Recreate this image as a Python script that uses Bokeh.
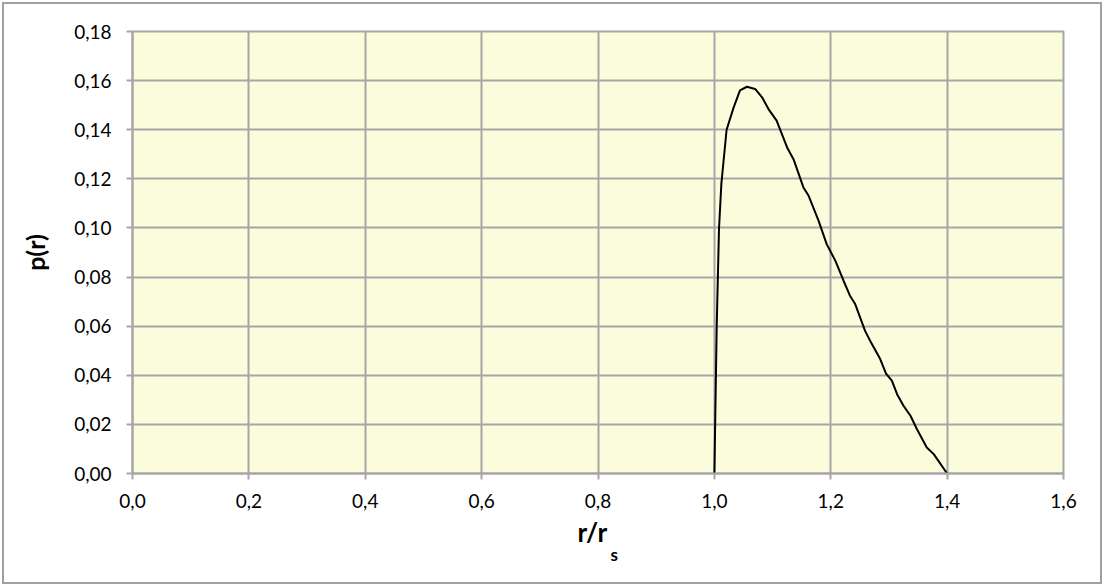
from bokeh.plotting import figure
from bokeh.models import FixedTicker, Title
from bokeh.embed import file_html
from bokeh.resources import INLINE

# data
r_ratio = [1.000, 1.004, 1.008, 1.012, 1.021, 1.033, 1.044, 1.056, 1.070, 1.082,
           1.093, 1.107, 1.125, 1.136, 1.153, 1.162, 1.179, 1.193, 1.208, 1.222,
           1.233, 1.242, 1.259, 1.270, 1.285, 1.295, 1.305, 1.314, 1.325, 1.337,
           1.348, 1.365, 1.377, 1.400]
p_r = [0.000, 0.060, 0.100, 0.118, 0.140, 0.149, 0.156, 0.1575, 0.1566, 0.1532,
       0.1484, 0.1437, 0.1328, 0.128, 0.1165, 0.1131, 0.103, 0.0934, 0.0866, 0.0785,
       0.0724, 0.069, 0.0581, 0.053, 0.0466, 0.0407, 0.0378, 0.0323, 0.0276, 0.0235,
       0.0181, 0.0106, 0.0079, 0.000]

x_ticks = [0.0, 0.2, 0.4, 0.6, 0.8, 1.0, 1.2, 1.4, 1.6]
x_tick_labels = ["0,0", "0,2", "0,4", "0,6", "0,8", "1,0", "1,2", "1,4", "1,6"]
y_ticks = [0.00, 0.02, 0.04, 0.06, 0.08, 0.10, 0.12, 0.14, 0.16, 0.18]
y_tick_labels = ["0,00", "0,02", "0,04", "0,06", "0,08", "0,10", "0,12", "0,14", "0,16", "0,18"]
x_title = "r/r"
x_title_sub = "s"
y_title = "p(r)"

FONT = "Lato"
GRID = "#a6a6a6"

p = figure(width=1100, height=582, output_backend="svg", toolbar_location=None,
           x_range=(0, 1.6), y_range=(0, 0.18),
           min_border_left=128, min_border_top=27, min_border_right=41, min_border_bottom=113)
p.styles = {"border": "2px solid #a0a0a0", "margin": "2px"}
p.background_fill_color = "#fafcdc"
p.border_fill_color = "white"
p.outline_line_color = GRID
p.outline_line_width = 2

p.xgrid.grid_line_color = GRID
p.ygrid.grid_line_color = GRID
p.xgrid.grid_line_width = 2
p.ygrid.grid_line_width = 2

for ax in (p.xaxis[0], p.yaxis[0]):
    ax.axis_line_color = GRID
    ax.axis_line_width = 2
    ax.major_tick_line_color = GRID
    ax.major_tick_line_width = 2
    ax.major_tick_in = 0
    ax.major_tick_out = 6
    ax.minor_tick_line_color = None
    ax.major_label_text_font = FONT
    ax.major_label_text_font_size = "19px"
    ax.major_label_text_color = "black"

p.xaxis.ticker = FixedTicker(ticks=x_ticks)
p.xaxis.major_label_overrides = {t: l for t, l in zip(x_ticks, x_tick_labels)}
p.xaxis.major_label_standoff = 14
p.yaxis.ticker = FixedTicker(ticks=y_ticks)
p.yaxis.major_label_overrides = {t: l for t, l in zip(y_ticks, y_tick_labels)}
p.yaxis.major_label_standoff = 15

p.yaxis.axis_label = y_title
p.yaxis.axis_label_text_font = FONT
p.yaxis.axis_label_text_font_style = "bold"
p.yaxis.axis_label_text_font_size = "25px"
p.yaxis.axis_label_text_color = "black"
p.yaxis.axis_label_standoff = 21

p.line(r_ratio, p_r, line_color="black", line_width=2)

p.add_layout(Title(text=x_title, align="left", offset=445, standoff=7,
                   text_font=FONT, text_font_style="bold", text_font_size="26px",
                   text_color="black"), "below")
p.add_layout(Title(text=x_title_sub, align="left", offset=478, standoff=-27,
                   text_font=FONT, text_font_style="bold", text_font_size="17px",
                   text_color="black"), "below")

open("out.html", "w").write(file_html(p, INLINE))
